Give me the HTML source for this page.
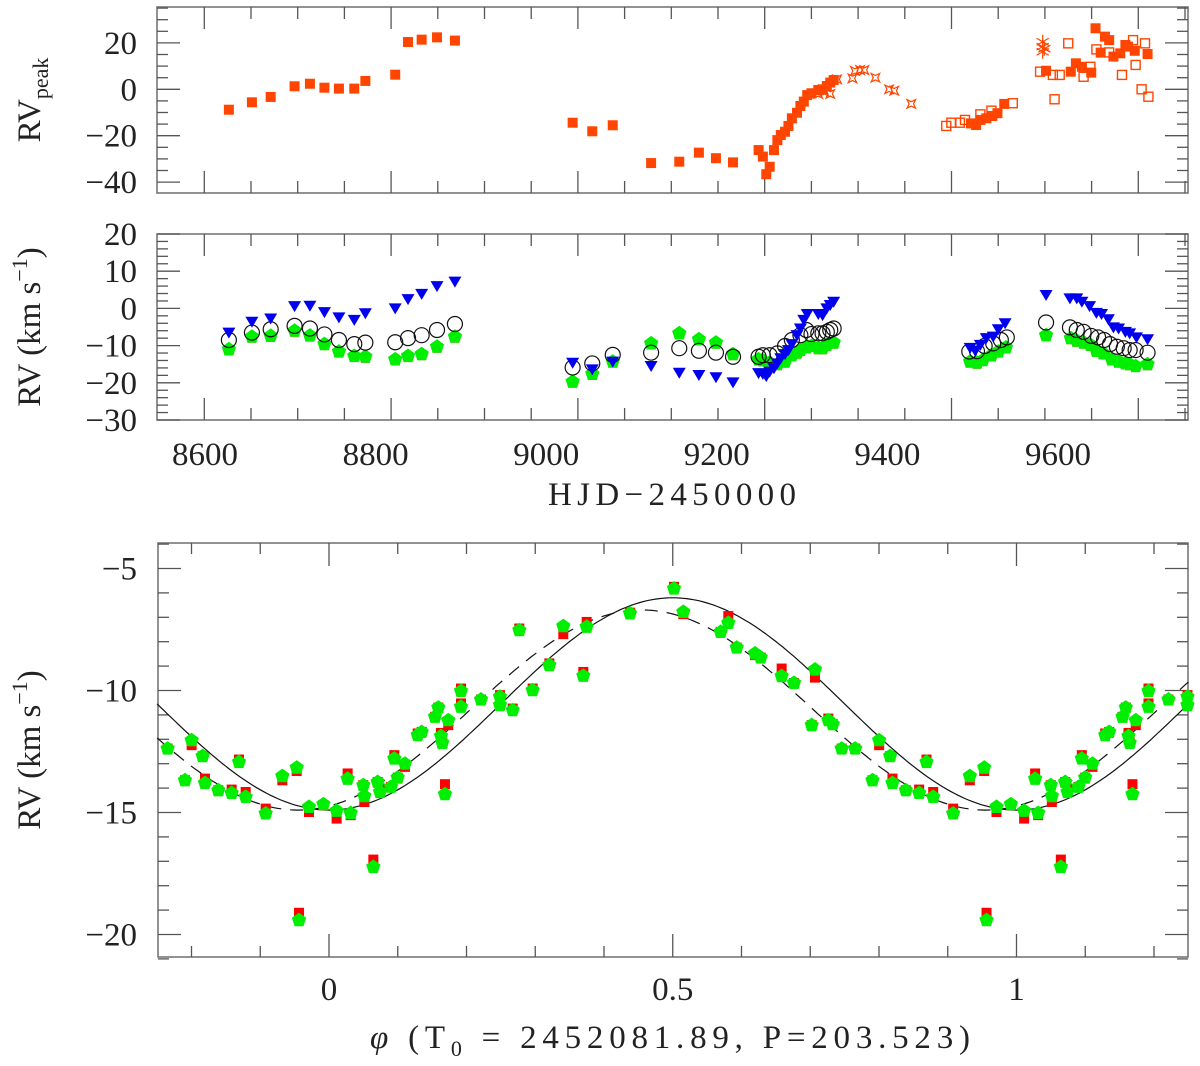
<!DOCTYPE html>
<html><head><meta charset="utf-8"><style>
html,body{margin:0;padding:0;background:#fff;}
svg{display:block;font-family:"Liberation Serif",serif;}
</style></head><body>
<svg id="chart" xmlns="http://www.w3.org/2000/svg" width="1200" height="1066" viewBox="0 0 1200 1066">
<g id="frames"></g>
<g id="ticks"></g>
<g id="labels" fill="#222" font-size="33"></g>
<g id="curves"></g>
<g id="marks"></g>
<text transform="translate(40,100) rotate(-90)" text-anchor="middle" font-size="33" fill="#222">RV<tspan font-size="22" dy="8">peak</tspan></text>
<text transform="translate(40,327) rotate(-90)" text-anchor="middle" font-size="33" fill="#222">RV  (km s<tspan font-size="22" dy="-13">−1</tspan><tspan dy="13">)</tspan></text>
<text transform="translate(40,750) rotate(-90)" text-anchor="middle" font-size="33" fill="#222">RV  (km s<tspan font-size="22" dy="-13">−1</tspan><tspan dy="13">)</tspan></text>
<text x="672" y="505" text-anchor="middle" font-size="33" fill="#222" textLength="248">HJD−2450000</text>
<text x="370" y="1048" font-size="33" fill="#222" textLength="600"><tspan font-style="italic">φ</tspan>  (T<tspan font-size="22" dy="8">0</tspan><tspan dy="-8"> = 2452081.89,  P=203.523)</tspan></text>
</svg>
<script>
// ---------- Top panel data (HJD-2450000, RV_peak) ----------
const topFilledX = [8628,8655,8677,8705,8723,8740,8757,8775,8788,8823,8838,8854,8872,8893,9031,9054,9078,9123,9156,9179,9199,9219,9249,9254,9258,9262,9267,9271,9275,9280,9284,9288,9294,9298,9302,9306,9311,9319,9324,9329,9333,9337,9498,9504,9509,9516,9523,9529,9537,9586,9615,9621,9628,9639,9644,9655,9660,9650,9665,9673,9679,9682,9690,9705];
const topFilledY = [-8.8,-5.6,-3.3,1.3,2.4,0.7,0.3,0.3,3.6,6.3,20.4,21.4,22.4,21,-14.4,-18.1,-15.5,-31.8,-31.2,-27.3,-29.7,-31.5,-26.2,-29,-36.6,-33.4,-26.2,-21.9,-19.7,-18.3,-15.8,-12.5,-10.1,-7.2,-5.3,-2.5,-1.7,-0.3,0,1.4,2.9,4,-14.7,-15.4,-13.2,-12.5,-11.5,-10.3,-6.3,8,7.6,11.2,9.7,7.2,26.3,22.7,21.2,15.8,14.1,15.5,19.1,18.4,16.6,15.2];
const topOpenX = [9469,9475,9485,9491,9509,9522,9547,9579,9594,9602,9596,9612,9630,9638,9645,9660,9675,9688,9691,9702,9698,9706];
const topOpenY = [-15.8,-14.4,-14.4,-13.2,-10.8,-9.2,-6,7.6,6.2,6.2,-4.3,19.8,5.4,9.7,17.2,15.9,6.2,21.2,10.5,19.8,0,-3.2];
const topStarX = [9319,9326,9333,9341,9359,9362,9368,9373,9386,9402,9408,9428];
const topStarY = [-2,-1,-2,4.3,4.7,7.9,8.3,8.3,5,0,-0.6,-6.3];
const topAstX = [9582,9582,9582,9584];
const topAstY = [18.4,20.5,16.2,17.5];
// ---------- Middle panel data ----------
const triX = [8628,8655,8677,8705,8723,8740,8757,8775,8788,8823,8838,8854,8872,8893,9031,9054,9078,9123,9156,9179,9199,9219,9249,9254,9258,9262,9267,9271,9275,9280,9284,9288,9294,9298,9302,9306,9319,9324,9329,9333,9337,9497,9503,9509,9516,9524,9530,9538,9586,9614,9622,9628,9637,9645,9651,9659,9665,9671,9679,9684,9692,9705];
const triY = [-6.5,-3.6,-2.7,0.6,0.7,-1,-2.4,-3.1,-1.3,0,2.5,3.9,6,7.2,-14.6,-16.4,-14.3,-15.5,-17.3,-17.9,-18.5,-19.9,-17.4,-17.6,-18.2,-17,-16.1,-14.8,-13.4,-12.3,-11.2,-9.6,-7.2,-5.4,-3.1,-1.5,-1.5,-1.8,0,0.9,1.8,-10.6,-11.4,-9.8,-8,-7.6,-5.6,-4,3.6,2.7,2.7,1.8,0.6,-1.2,-1.5,-2.9,-5.1,-5.4,-6.3,-6.7,-7.8,-8.3];
const circX = [8628,8655,8677,8705,8723,8740,8757,8775,8788,8823,8838,8854,8872,8893,9031,9054,9078,9123,9156,9179,9199,9219,9249,9254,9262,9271,9280,9288,9298,9305,9311,9319,9324,9329,9333,9337,9496,9505,9514,9524,9533,9540,9586,9614,9622,9630,9639,9647,9654,9661,9669,9677,9684,9691,9705];
const circY = [-8.5,-6.5,-5.6,-4.7,-5.4,-7,-8.5,-9.6,-9.2,-9.1,-8,-7.2,-5.8,-4.2,-15.9,-14.8,-12.5,-11.9,-10.7,-11.4,-11.9,-13,-13,-12.6,-12.6,-12.1,-10.1,-8.5,-7.2,-5.8,-6.9,-6.7,-6.7,-6.3,-5.8,-5.4,-11.6,-11.5,-10.1,-9.4,-8.5,-7.8,-3.8,-5.1,-5.8,-6.3,-7.4,-7.8,-8.5,-9.6,-10.3,-10.7,-11.2,-11.2,-11.9];
const pentX = [8628,8655,8677,8705,8723,8740,8757,8775,8788,8823,8838,8854,8872,8893,9031,9054,9078,9123,9156,9179,9199,9219,9249,9254,9262,9271,9280,9288,9294,9298,9305,9311,9319,9324,9329,9337,9497,9505,9512,9522,9530,9539,9586,9615,9622,9630,9638,9645,9653,9663,9671,9679,9684,9691,9705];
const pentY = [-11,-7.6,-7.4,-6,-7.3,-9.6,-11.6,-12.8,-13,-13.7,-12.8,-12.3,-10.3,-7.6,-19.7,-17.6,-14.3,-9.4,-6.7,-8.3,-9.2,-12.3,-13.7,-14,-14.6,-15,-14.3,-12.6,-11.9,-11.2,-10.5,-10.1,-10.7,-10.7,-9.8,-9.2,-14.3,-14.6,-13.9,-12.6,-11.6,-10.5,-7.2,-8,-8.7,-9.2,-9.8,-11.4,-12.1,-13.7,-14.3,-14.8,-15,-15.5,-15];
// ---------- Bottom panel (phase-folded) data, one cycle ----------
const phase = [0.7457,0.7653,0.7905,0.8002,0.8162,0.8196,0.839,0.8584,0.8691,0.8788,0.9079,0.9321,0.953,0.9564,0.9709,0.9918,0.0111,0.0271,0.0315,0.0499,0.0514,0.0645,0.0708,0.0742,0.0902,0.095,0.0999,0.1105,0.129,0.1348,0.1542,0.159,0.1629,0.1648,0.1687,0.1735,0.192,0.192,0.2211,0.2487,0.2487,0.2672,0.2768,0.2962,0.3205,0.3408,0.3699,0.3748,0.4378,0.5018,0.5154,0.5697,0.5808,0.593,0.6196,0.6279,0.6584,0.6764,0.7021,0.7069,0.7263,0.7327];
const rvGreen = [-12.38,-12.38,-13.68,-12.04,-12.69,-13.79,-14.09,-14.2,-12.93,-14.36,-15.04,-13.51,-13.16,-19.41,-14.77,-14.66,-14.93,-13.62,-15.02,-13.88,-14.33,-17.23,-13.75,-14.16,-13.95,-12.79,-13.57,-13,-11.83,-11.7,-11.08,-10.7,-11.87,-12.15,-14.25,-11.22,-10.02,-10.67,-10.37,-10.26,-10.6,-10.81,-7.53,-9.99,-8.96,-7.36,-9.4,-7.39,-6.84,-5.82,-6.78,-7.6,-7.23,-8.24,-8.48,-8.65,-9.41,-9.69,-11.42,-9.14,-11.22,-11.38];
const rvRed = [-12.38,-12.38,-13.68,-12.24,-12.69,-13.61,-14.09,-14.06,-12.83,-14.16,-14.84,-13.68,-13.3,-19.11,-14.98,-14.7,-15.25,-13.4,-15.11,-13.88,-14.57,-16.93,-13.75,-14.02,-13.95,-12.65,-13.57,-13.13,-11.76,-11.7,-11.08,-10.7,-11.74,-12.15,-13.84,-11.42,-9.92,-10.53,-10.37,-10.19,-10.6,-10.74,-7.46,-9.92,-8.89,-7.69,-9.24,-7.19,-6.81,-5.75,-6.87,-7.6,-6.95,-8.24,-8.55,-8.65,-9.1,-9.69,-11.42,-9.47,-11.15,-11.38];
// model curve params: [gamma, K, phase of minimum]
const solidFit = [-10.55, 4.35, 0.0];
const dashedFit = [-10.8, 4.1, -0.045];

const NS = "http://www.w3.org/2000/svg";
function mk(tag, attrs, parent){ const e=document.createElementNS(NS,tag); for(const k in attrs) e.setAttribute(k,attrs[k]); parent.appendChild(e); return e; }
// axis functions
const xT = h => 205 + (h-8600)*0.853;
const yTop = v => 89.3 - v*2.32;
const yMid = v => 308.4 - v*3.72;
const xB = p => 329 + p*687.5;
const yB = v => 568.5 - (v+5)*24.4;

const P = {top:[157,7,1188,193], mid:[157,234,1188,420], bot:[158,543,1188,957]};
const frames=document.getElementById('frames'), ticks=document.getElementById('ticks'), labels=document.getElementById('labels');
for(const k in P){ const [x0,y0,x1,y1]=P[k];
  const r=mk('rect',{x:x0,y:y0,width:x1-x0,height:y1-y0,fill:'none',stroke:'#777','stroke-width':1.6},frames);
  
  
}
function tick(x1,y1,x2,y2){ const t=mk('line',{x1,y1,x2,y2,stroke:'#555','stroke-width':1.3},ticks);
  
   }
function label(x,y,s,anchor){ const t=mk('text',{x,y,'text-anchor':anchor},labels); t.textContent=s;
  
   }
// x ticks top & mid (HJD)
for(const k of ['top','mid']){ const [x0,y0,x1,y1]=P[k];
  for(let i=0;i<22;i++){ const x=204.3+i*46.7; if(x>x1) break; const L=(i%4===0)?22:12;
    tick(x,y0,x,y0+L); tick(x,y1,x,y1-L); } }
const hjdTicks=[8600,8800,9000,9200,9400,9600];
hjdTicks.forEach(h=>label(xT(h),465,h,'middle'));
// y ticks top
for(let v=-40; v<=35; v+=5){ const y=yTop(v), L=(v%20===0)?23:11; tick(157,y,157+L,y); tick(1188,y,1188-L,y); }
[20,0,-20,-40].forEach(v=>label(137,yTop(v)+11,v<0?'−'+(-v):v,'end'));
for(let v=-30; v<=20; v+=2){ const y=yMid(v), L=(v%10===0)?23:11; tick(157,y,157+L,y); tick(1188,y,1188-L,y); }
[20,10,0,-10,-20,-30].forEach(v=>label(137,yMid(v)+11,v<0?'−'+(-v):v,'end'));
// bottom
for(let i=-2;i<=12;i++){ const p=i/10, x=xB(p); if(x<158||x>1188) continue; const L=(i%5===0)?23:11; tick(x,957,x,957-L); tick(x,543,x,543+L); }
[[0,'0'],[0.5,'0.5'],[1,'1']].forEach(([p,s])=>label(xB(p),1000,s,'middle'));
for(let v=-21; v<=-4; v++){ const y=yB(v), L=(v%5===0)?23:11; tick(158,y,158+L,y); tick(1188,y,1188-L,y); }
[-5,-10,-15,-20].forEach(v=>label(137,yB(v)+11,'−'+(-v),'end'));

// marks
const marks=document.getElementById('marks');
function sq(cx,cy,s,fill,stroke){ return mk('rect',{x:cx-s/2,y:cy-s/2,width:s,height:s,fill:fill,stroke:stroke||'none','stroke-width':1.4},marks); }
function pent(cx,cy,r,fill){ let pts=[]; for(let k=0;k<5;k++){const a=(-90+72*k)*Math.PI/180; pts.push((cx+r*Math.cos(a)).toFixed(1)+','+(cy+r*Math.sin(a)).toFixed(1));}
  return mk('polygon',{points:pts.join(' '),fill:fill},marks); }
const OR='#ff4500';
topFilledX.forEach((h,i)=>{ const e=sq(xT(h),yTop(topFilledY[i]),10,OR);
  
   });
topOpenX.forEach((h,i)=>{ const e=sq(xT(h),yTop(topOpenY[i]),9,'none',OR);
  
   });
topStarX.forEach((h,i)=>{ const cx=xT(h), cy=yTop(topStarY[i]); let pts=[];
  for(let k=0;k<8;k++){ const a=(45*k-45)*Math.PI/180, r=(k%2===0)?6:2.2; pts.push((cx+r*Math.cos(a)).toFixed(1)+','+(cy+r*Math.sin(a)).toFixed(1)); }
  const e=mk('polygon',{points:pts.join(' '),fill:'none',stroke:OR,'stroke-width':1.2},marks);
  
   });
topAstX.forEach((h,i)=>{ const cx=xT(h), cy=yTop(topAstY[i]); let d='';
  for(let k=0;k<3;k++){ const a=(90+60*k)*Math.PI/180; d+=`M${cx+7*Math.cos(a)},${cy+7*Math.sin(a)}L${cx-7*Math.cos(a)},${cy-7*Math.sin(a)}`; }
  const e=mk('path',{d:d,stroke:OR,'stroke-width':1.2,fill:'none'},marks);
  
   });
// middle
pentX.forEach((h,i)=>{ const e=sq(xT(h),yMid(pentY[i])+1.5,9,'#ff0000');
  
   });
pentX.forEach((h,i)=>{ const e=pent(xT(h),yMid(pentY[i]),7.5,'#00ee00');
  
   });
circX.forEach((h,i)=>{ const e=mk('circle',{cx:xT(h),cy:yMid(circY[i]),r:7.5,fill:'none',stroke:'#111','stroke-width':1.2},marks);
  
   });
triX.forEach((h,i)=>{ const cx=xT(h), cy=yMid(triY[i]);
  const e=mk('polygon',{points:`${cx-6.5},${cy-5} ${cx+6.5},${cy-5} ${cx},${cy+6}`,fill:'#0000ee'},marks);
  
   });
// bottom curves
const curves=document.getElementById('curves');
function model(f,p){ return f[0] - f[1]*Math.cos(2*Math.PI*(p-f[2])); }
function curvePath(f){ let d=''; for(let i=0;i<=300;i++){ const p=-0.25+1.5*i/300; d+=(i?'L':'M')+xB(p).toFixed(1)+','+yB(model(f,p)).toFixed(1);} return d; }
const c1=mk('path',{d:curvePath(solidFit),fill:'none',stroke:'#111','stroke-width':1.2},curves);


const c2=mk('path',{d:curvePath(dashedFit),fill:'none',stroke:'#111','stroke-width':1.2,'stroke-dasharray':'13 9'},curves);


// bottom points
const shifts=[-1,0,1];
phase.forEach((p,i)=>{ shifts.forEach(s=>{ const q=p+s; if(q<-0.25||q>1.25) return;
  const e=sq(xB(q),yB(rvRed[i]),10,'#ff0000');
  
   }); });
phase.forEach((p,i)=>{ shifts.forEach(s=>{ const q=p+s; if(q<-0.25||q>1.25) return;
  const e=pent(xB(q),yB(rvGreen[i]),7.5,'#00ee00');
  
   }); });
</script>
</body></html>
